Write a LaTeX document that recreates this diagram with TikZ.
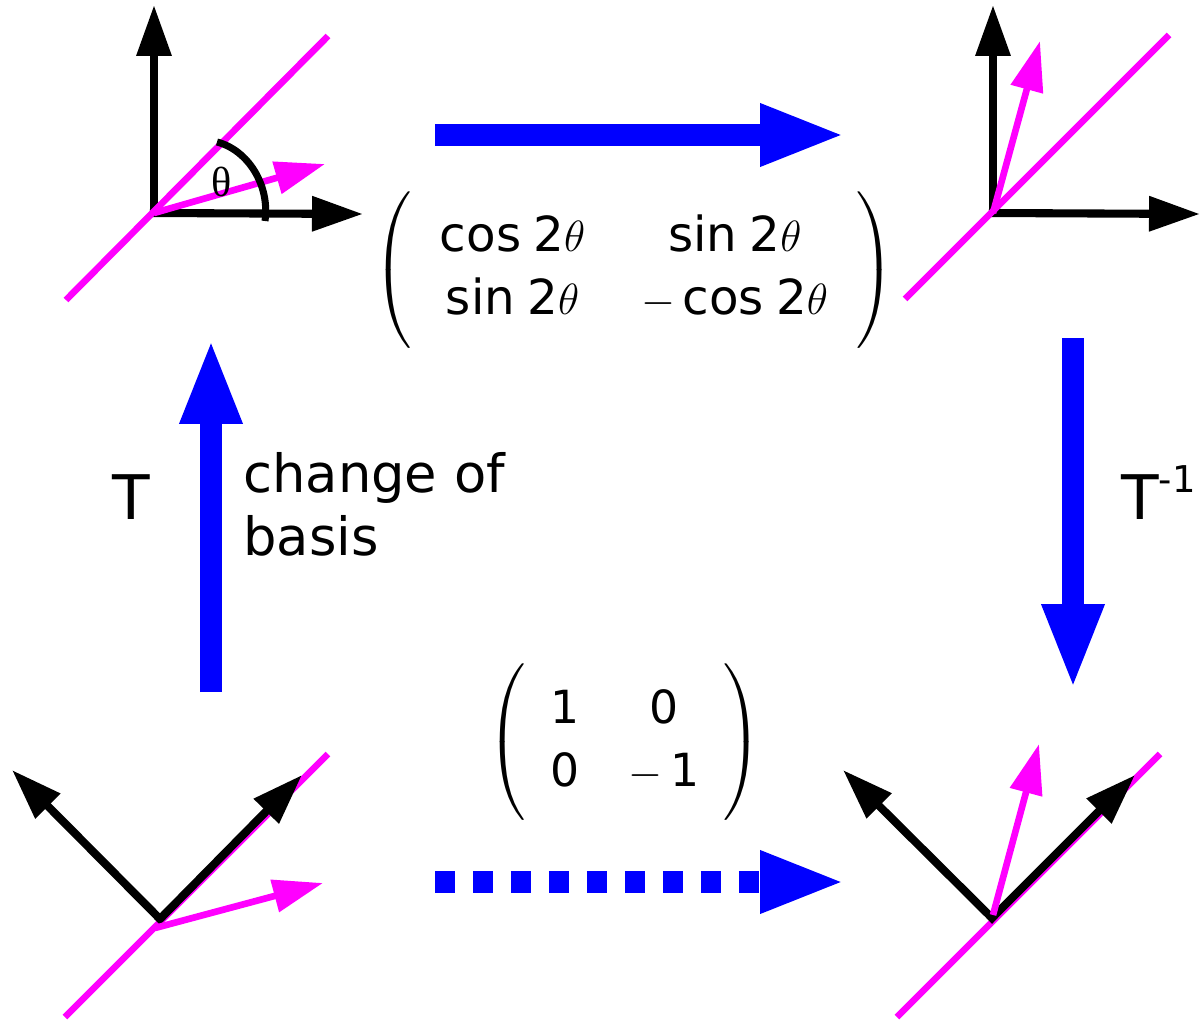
\documentclass[tikz,border=0pt]{standalone}
\usepackage{exscale}
\usepackage{fontspec}
\setsansfont{DejaVu Sans}
\newfontfamily\thetafont{Liberation Serif}
\usetikzlibrary{arrows.meta}

\definecolor{mirrorpink}{RGB}{255,0,255}
\definecolor{mapblue}{RGB}{0,0,255}

% entries of the matrices
\newcommand{\trig}[1]{\textsf{#1}\;\textsf{2}\theta}

\begin{document}
\begin{tikzpicture}[x=0.02cm, y=-0.02cm,
	% Gaya untuk sumbu hitam
	axis/.style={
		draw=black,
		line width=4.6pt,
		line cap=rect,
		-{Triangle[length=1.02cm, width=0.67cm]}
	},
	% Gaya untuk garis cermin dan vektor
	mirror/.style={
		draw=mirrorpink,
		line width=3.8pt
	},
	vec/.style={
		draw=mirrorpink,
		line width=3.8pt,
		-{Triangle[length=1.0cm, width=0.64cm]}
	},
	% Gaya untuk panah biru
	map/.style={
		draw=mapblue,
		line width=13pt,
		-{Triangle[length=1.72cm, width=1.13cm]}
	},
	lbl/.style={
		inner sep=0pt,
		font=\sffamily\fontsize{30}{36}\selectfont
	},
	mat/.style={
		inner sep=0pt,
		font=\fontsize{27.5}{36}\selectfont
	}
	]
	\useasboundingbox (0,0) rectangle (1200,1021);
	
	% Titik asal tiap panel
	\coordinate (oTL) at (154,213);
	\coordinate (oTR) at (993,213);
	\coordinate (oBL) at (160,919);
	\coordinate (oBR) at (992,918);
	
	% Panel kiri atas
	\draw[axis] (oTL) -- (154,5);
	\draw[axis] (oTL) -- (363,214);
	\draw[mirror] (66,300) -- (328,36);
	\draw[vec] (oTL) -- (325,164);
	\draw[line width=4pt] (217,142) .. controls (248,150) and (270,185) .. (265,221);
	\node[inner sep=0pt, font=\thetafont\fontsize{24}{24}\selectfont] (angle) at (222,182) {θ};
	
	% Panel kanan atas
	\draw[axis] (oTR) -- (993,5);
	\draw[axis] (oTR) -- (1200,214);
	\draw[mirror] (905,299) -- (1169,35);
	\draw[vec] (oTR) -- (1040,41);
	
	% Panel kiri bawah
	\draw[mirror] (65,1017) -- (328,754);
	\draw[axis] (oBL) -- (12,770);
	\draw[axis] (oBL) -- (302,775);
	\draw[vec] (155,928) -- (323,883);
	
	% Panel kanan bawah
	\draw[mirror] (897,1017) -- (1160,754);
	\draw[axis] (oBR) -- (843,770);
	\draw[axis] (oBR) -- (1135,775);
	\draw[vec] (993,915) -- (1039,744);
	
	% Matriks
	\node[mat] (rotmat) at (634,270) {$\arraycolsep=16pt\delimitershortfall=-8pt\left(\begin{array}{cc}
			\trig{cos} & \trig{sin}\\
			\trig{sin} & -\,\trig{cos}
		\end{array}\right)$};
	\node[mat, font=\fontsize{26}{36}\selectfont] (refmat) at (625,742) {$\arraycolsep=14pt\delimitershortfall=-10pt\left(\begin{array}{cc}
			\textsf{1} & \textsf{0}\\
			\textsf{0} & -\,\textsf{1}
		\end{array}\right)$};
	
	% Label
	\node[lbl, anchor=base west, font=\sffamily\fontsize{35}{35}\selectfont] (tfwd) at (112,519) {T};
	\node[lbl, anchor=base west, font=\sffamily\fontsize{35}{35}\selectfont] (tback) at (1121,519)
		{T\raisebox{15pt}{\fontsize{21}{21}\selectfont -1}};
	\node[lbl, anchor=north west, align=left] (basis) at (243,452) {change of\\basis};
	
	% Ujung panah biru
	\coordinate (topA) at (435,135);
	\coordinate (topB) at (846,135);
	\coordinate (rgtA) at (1073,338);
	\coordinate (rgtB) at (1073,690);
	\coordinate (lftA) at (211,692);
	\coordinate (lftB) at (211,338);
	\coordinate (botA) at (435,882);
	\coordinate (botB) at (846,882);
	
	% Panah biru
	\draw[map] (topA) -- (topB);
	\draw[map] (rgtA) -- (rgtB);
	\draw[map] (lftA) -- (lftB);
	\draw[map, dash pattern=on 0.4cm off 0.36cm] (botA) -- (botB);
	
\end{tikzpicture}
\end{document}
